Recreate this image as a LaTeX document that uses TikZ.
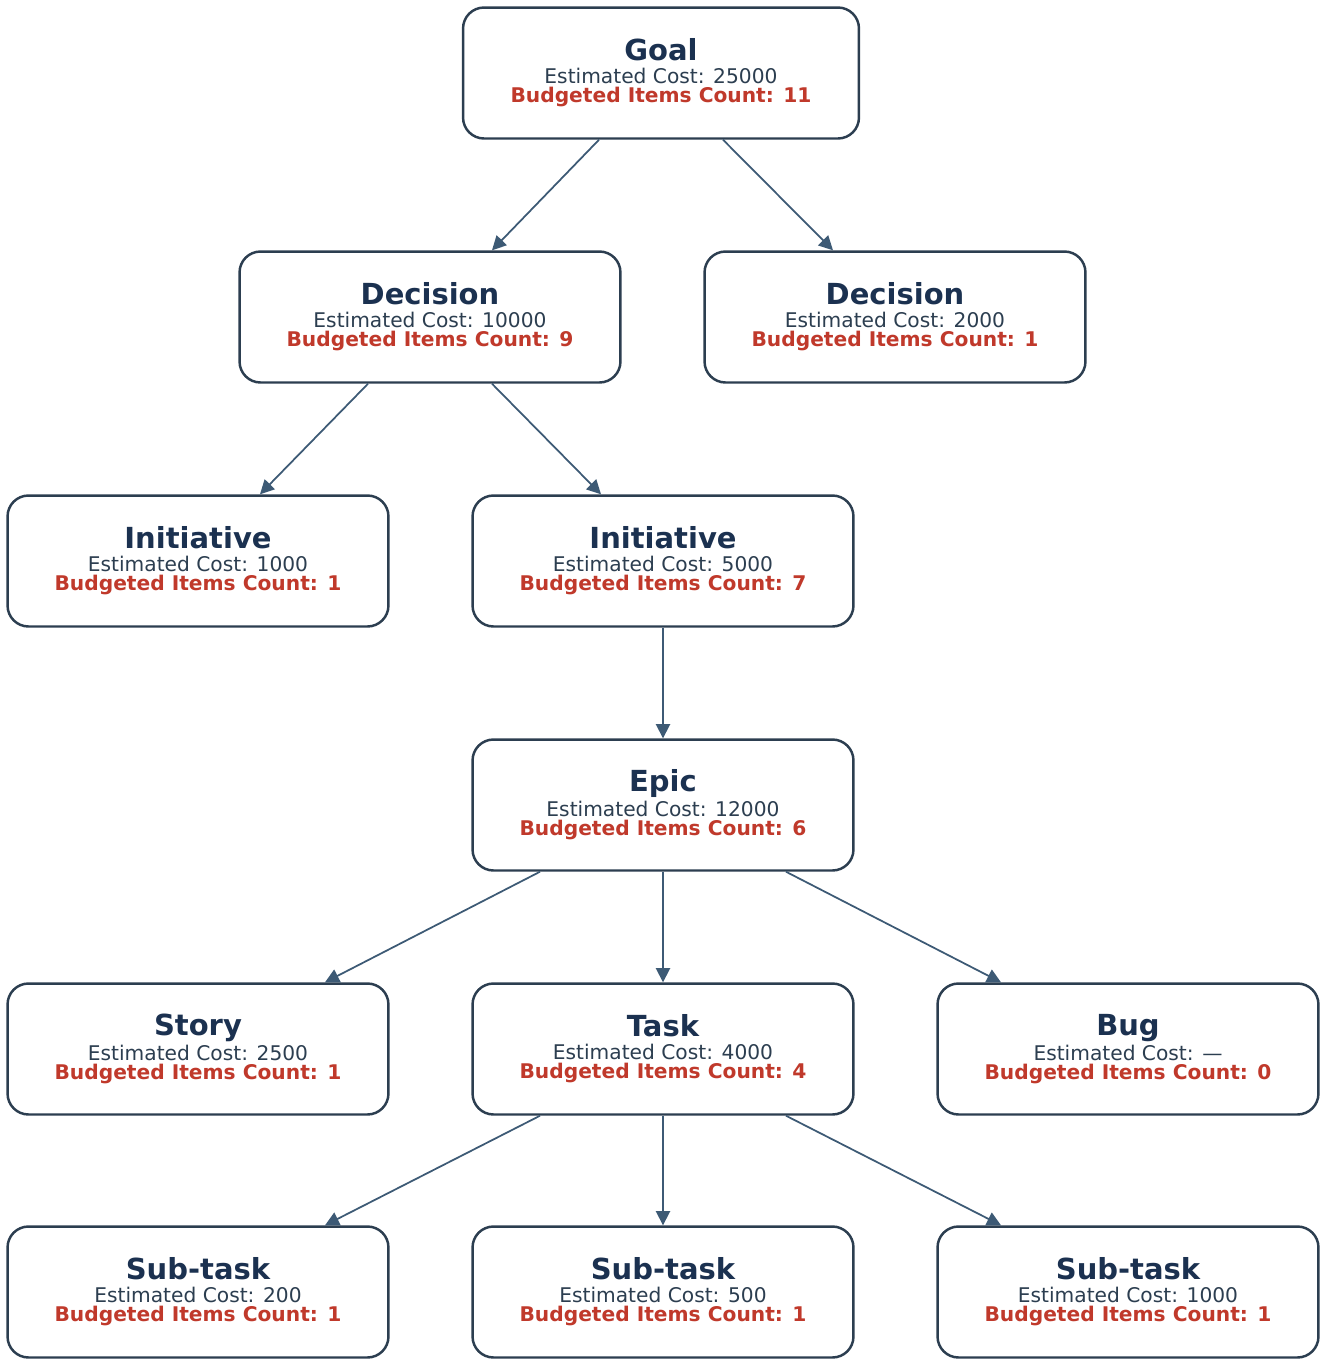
\documentclass[tikz,border=0pt]{standalone}
\usepackage{fontspec}
\setmainfont{DejaVu Sans}
\usetikzlibrary{arrows.meta,calc}
\definecolor{boxline}{HTML}{2C3E50}
\definecolor{titlecol}{HTML}{1B3150}
\definecolor{costcol}{HTML}{2C3E50}
\definecolor{budgetcol}{HTML}{C0392B}
\definecolor{edgecol}{HTML}{3D5A75}
\newcommand{\itembox}[3]{{\fontsize{16.5}{20}\selectfont\bfseries\color{titlecol}#1}\\[1pt]%
  {\fontsize{11.5}{15}\selectfont\color{costcol}Estimated Cost: #2}\\[-1pt]%
  {\fontsize{11.5}{15}\selectfont\bfseries\color{budgetcol}Budgeted Items Count: #3}}
\tikzset{
  item/.style={draw=boxline, line width=1.4pt, rounded corners=0.42cm, fill=white,
    minimum width=7.62cm, minimum height=2.62cm, align=center, inner sep=0pt},
  link/.style={draw=edgecol, line width=1pt, -{Triangle[length=8pt,width=8pt]}}
}
\begin{document}
\begin{tikzpicture}[x=0.02cm,y=-0.02cm]
  \useasboundingbox (0,0) rectangle (1327,1367);
  % top levels
  \node[item, minimum width=7.92cm] (goal) at (661,73) {\itembox{Goal}{25000}{11}};
  \node[item] (dec1) at (430,317) {\itembox{Decision}{10000}{9}};
  \node[item] (dec2) at (895,317) {\itembox{Decision}{2000}{1}};
  \node[item] (ini1) at (198,561) {\itembox{Initiative}{1000}{1}};
  \node[item] (ini2) at (663,561) {\itembox{Initiative}{5000}{7}};
  \node[item] (epic) at (663,805) {\itembox{Epic}{12000}{6}};
  % work items
  \node[item] (story) at (198,1049) {\itembox{Story}{2500}{1}};
  \node[item] (task) at (663,1049) {\itembox{Task}{4000}{4}};
  \node[item] (bug) at (1128,1049) {\itembox{Bug}{—}{0}};
  \node[item] (sub1) at (198,1292) {\itembox{Sub-task}{200}{1}};
  \node[item] (sub2) at (663,1292) {\itembox{Sub-task}{500}{1}};
  \node[item] (sub3) at (1128,1292) {\itembox{Sub-task}{1000}{1}};
  % connectors
  \draw[link] ($(goal.south)+(-62,0)$) -- ($(dec1.north)+(62,0)$);
  \draw[link] ($(goal.south)+(62,0)$) -- ($(dec2.north)+(-62,0)$);
  \draw[link] ($(dec1.south)+(-62,0)$) -- ($(ini1.north)+(62,0)$);
  \draw[link] ($(dec1.south)+(62,0)$) -- ($(ini2.north)+(-62,0)$);
  \draw[link] (ini2.south) -- (epic.north);
  \draw[link] ($(epic.south)+(-123,0)$) -- ($(story.north)+(127,0)$);
  \draw[link] (epic.south) -- (task.north);
  \draw[link] ($(epic.south)+(123,0)$) -- ($(bug.north)+(-127,0)$);
  \draw[link] ($(task.south)+(-123,0)$) -- ($(sub1.north)+(127,0)$);
  \draw[link] (task.south) -- (sub2.north);
  \draw[link] ($(task.south)+(123,0)$) -- ($(sub3.north)+(-127,0)$);
\end{tikzpicture}
\end{document}
